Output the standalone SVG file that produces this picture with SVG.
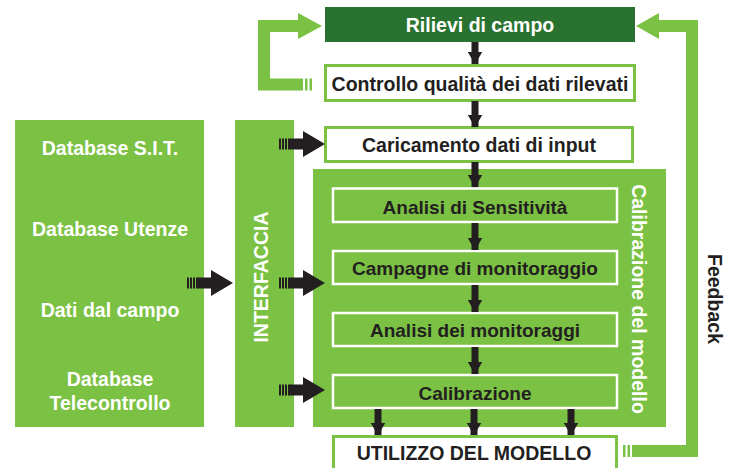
<svg xmlns="http://www.w3.org/2000/svg" xmlns:xlink="http://www.w3.org/1999/xlink" width="734" height="468" viewBox="0 0 734 468">
<style>
.t{font-family:"Liberation Sans",Arial,sans-serif;font-weight:bold;text-anchor:middle;dominant-baseline:central}
.w{fill:#ffffff}
.k{fill:#231f20}
.g{fill:#7bc143}
.ob{fill:#ffffff;stroke:#7bc143;stroke-width:3}
.ib{fill:#7bc143;stroke:#ffffff;stroke-width:2.5}
.fb{fill:none;stroke:#7bc143;stroke-width:12}
.dn{stroke:#231f20;stroke-width:7;marker-end:url(#ah)}
</style>
<defs>
<marker id="ah" markerUnits="userSpaceOnUse" markerWidth="13" markerHeight="15" refX="12.5" refY="7.5" orient="auto" viewBox="0 0 13 15"><path d="M0,0 L13,7.5 L0,15 Z" fill="#231f20"/></marker>
<g id="bigArrow" fill="#231f20">
<rect x="-46" y="-5.5" width="2" height="11"/>
<rect x="-43" y="-5.5" width="2" height="11"/>
<rect x="-40" y="-5.5" width="2" height="11"/>
<path d="M-37,-5.5 H-22 V-13 L0,0 L-22,13 V5.5 H-37 Z"/>
</g>
</defs>

<g id="sources">
<rect x="15" y="120" width="189" height="307" class="g"/>
<text class="t w" x="110" y="148" font-size="19.5">Database S.I.T.</text>
<text class="t w" x="110" y="229" font-size="19.5">Database Utenze</text>
<text class="t w" x="110" y="310" font-size="19.5">Dati dal campo</text>
<text class="t w" x="110" y="379" font-size="19.5">Database</text>
<text class="t w" x="110" y="403" font-size="19.5">Telecontrollo</text>
</g>

<g id="interfaccia">
<rect x="235" y="120" width="59" height="307" class="g"/>
<text class="t w" x="0" y="0" font-size="19.5" transform="translate(261 277) rotate(-90)">INTERFACCIA</text>
</g>

<g id="rilievi">
<rect x="325" y="7" width="310" height="35" fill="#2a7230"/>
<text class="t w" x="480" y="25" font-size="19.5">Rilievi di campo</text>
</g>

<g id="controllo">
<rect x="325.5" y="65.5" width="309" height="35" class="ob"/>
<text class="t k" x="480" y="84" font-size="19.5">Controllo qualità dei dati rilevati</text>
</g>

<g id="caricamento">
<rect x="325.5" y="127.5" width="307" height="34" class="ob"/>
<text class="t k" x="479" y="145" font-size="19.5">Caricamento dati di input</text>
</g>

<g id="calibrazione-modello">
<rect x="313" y="169" width="353" height="258" class="g"/>
<text class="t w" x="0" y="0" font-size="19.5" transform="translate(639 299) rotate(90)">Calibrazione del modello</text>
</g>

<g id="sensitivita">
<rect x="333" y="188.5" width="284" height="33.5" class="ib"/>
<text class="t k" x="475" y="207" font-size="19">Analisi di Sensitività</text>
</g>

<g id="campagne">
<rect x="333" y="251" width="284" height="33" class="ib"/>
<text class="t k" x="475" y="268" font-size="19">Campagne di monitoraggio</text>
</g>

<g id="analisi-monitoraggi">
<rect x="333" y="313" width="284" height="33" class="ib"/>
<text class="t k" x="475" y="330" font-size="19">Analisi dei monitoraggi</text>
</g>

<g id="calibrazione">
<rect x="333" y="375" width="284" height="33" class="ib"/>
<text class="t k" x="475" y="393" font-size="19">Calibrazione</text>
</g>

<g id="utilizzo">
<rect x="333.5" y="436.5" width="283" height="40" class="ob"/>
<text class="t k" x="474" y="453" font-size="19.5">UTILIZZO DEL MODELLO</text>
</g>

<g id="feedback-label">
<text class="t k" x="0" y="0" font-size="19.5" transform="translate(715 299) rotate(90)">Feedback</text>
</g>

<g id="connectors">
<line class="dn" x1="475" y1="42" x2="475" y2="64"/>
<line class="dn" x1="475" y1="101" x2="475" y2="127"/>
<line class="dn" x1="475" y1="162" x2="475" y2="187"/>
<line class="dn" x1="475" y1="223" x2="475" y2="250"/>
<line class="dn" x1="475" y1="285" x2="475" y2="312"/>
<line class="dn" x1="475" y1="347" x2="475" y2="374"/>
<line class="dn" x1="378" y1="409" x2="378" y2="435"/>
<line class="dn" x1="474" y1="409" x2="474" y2="435"/>
<line class="dn" x1="571" y1="409" x2="571" y2="435"/>

<use xlink:href="#bigArrow" href="#bigArrow" transform="translate(233 283)"/>
<use xlink:href="#bigArrow" href="#bigArrow" transform="translate(325 144)"/>
<use xlink:href="#bigArrow" href="#bigArrow" transform="translate(325 283)"/>
<use xlink:href="#bigArrow" href="#bigArrow" transform="translate(325 390)"/>

<path class="fb" d="M303,84.5 H264 V26 H300"/>
<polygon class="g" points="298,13 322,26 298,39"/>
<rect class="g" x="305" y="78.5" width="2.5" height="12"/>
<rect class="g" x="309.5" y="78.5" width="2.5" height="12"/>

<path class="fb" d="M632,451 H692 V26 H658"/>
<polygon class="g" points="659,13 636,26 659,39"/>
<rect class="g" x="623" y="445" width="2.5" height="12"/>
<rect class="g" x="627.5" y="445" width="2.5" height="12"/>
</g>
</svg>
